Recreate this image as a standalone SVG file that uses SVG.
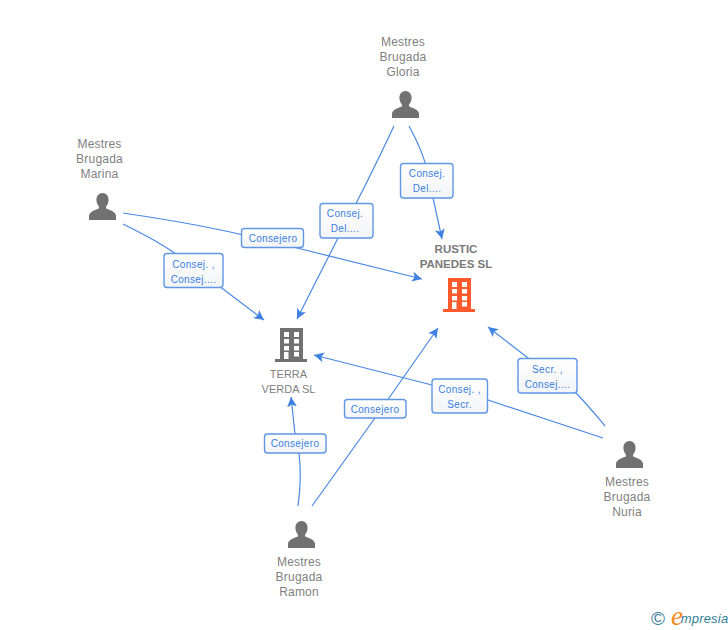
<svg xmlns="http://www.w3.org/2000/svg" width="728" height="630" viewBox="0 0 728 630">
<style>
text{font-family:"Liberation Sans",Arial,sans-serif;text-anchor:middle}
.n{font-size:12px;fill:#7f7f7f;letter-spacing:.2px}
.t{font-size:11px;letter-spacing:0}
.b{font-size:11.500px;font-weight:bold;fill:#7a7a7a;letter-spacing:0}
.l{font-size:10px;fill:#3a7fe0;letter-spacing:.35px}
.c{fill:none;stroke:#4a88e4;stroke-width:1.2;marker-end:url(#a)}
.box{fill:url(#g);stroke:#5f97e6;stroke-width:1.4}
</style>
<defs>
<linearGradient id="g" x1="0" y1="0" x2="0" y2="1"><stop offset="0" stop-color="#fff"/><stop offset="1" stop-color="#f3f4f6"/></linearGradient>
<marker id="a" markerUnits="userSpaceOnUse" markerWidth="14" markerHeight="14" refX="10" refY="6" orient="auto"><path d="M0 1L10 6L0 11L2.500 6Z" fill="#3f82e2"/></marker>
<symbol id="p" width="27" height="27" viewBox="0 0 27 27"><path fill="#717171" d="M13.500 0C17.200 0 19.600 3 19.600 6.800C19.600 9.600 18.500 12 17 13.600L17.200 15.600C20 17.200 26.200 18 27 22.500V27H0V22.500C.8 18 7 17.200 9.800 15.600L10 13.600C8.500 12 7.400 9.600 7.400 6.800C7.400 3 9.800 0 13.500 0Z"/></symbol>
<symbol id="h" width="32" height="34" viewBox="0 0 32 34"><path fill-rule="evenodd" d="M5 0H28V31H32V34H0V31H5ZM9 4V9H14V4ZM19 4V9H24V4ZM9 11V15.500H14V11ZM19 11V15.500H24V11ZM9 18V22.500H14V18ZM19 18V22.500H24V18ZM9 24V31H13.500V24ZM19 24V28.500H24V24Z"/></symbol>
</defs>
<g id="connectors">
<path class="c" d="M409 126C420 146 428 165 433 198L442 239"/>
<path class="c" d="M394 126C378 160 360 197 338 238L297 319"/>
<path class="c" d="M123 213C170 220 220 228 293 247L422 279"/>
<path class="c" d="M123 224C145 235 165 245 190 264L264 320"/>
<path class="c" d="M605 426C595 414 587 404 576 393L528 358L488 327"/>
<path class="c" d="M603 438L488 400C470 395 450 390 432 385L314 355"/>
<path class="c" d="M312 506L375 418L438 328"/>
<path class="c" d="M298 506C301 485 301 470 299 453L295 434L291 397"/>
</g>
<g id="lbl-gloria-rustic"><rect class="box" x="400.500" y="163.500" width="52.500" height="34.500" rx="3"/><text class="l" x="427" y="177">Consej. </text><text class="l" x="427" y="192">Del....</text></g>
<g id="lbl-gloria-terra"><rect class="box" x="320" y="203.500" width="53" height="34.500" rx="3"/><text class="l" x="345" y="217">Consej. </text><text class="l" x="345" y="232">Del....</text></g>
<g id="lbl-marina-rustic"><rect class="box" x="241.500" y="228.500" width="62" height="19" rx="3"/><text class="l" x="273" y="241.500">Consejero</text></g>
<g id="lbl-marina-terra"><rect class="box" x="164" y="253.500" width="59" height="34" rx="3"/><text class="l" x="193.500" y="267.500">Consej. ,</text><text class="l" x="193.500" y="282.500">Consej....</text></g>
<g id="lbl-nuria-rustic"><rect class="box" x="518" y="358.500" width="59" height="34.500" rx="3"/><text class="l" x="547.500" y="372.500">Secr. ,</text><text class="l" x="547.500" y="387.500">Consej....</text></g>
<g id="lbl-nuria-terra"><rect class="box" x="432" y="379" width="55.500" height="34" rx="3"/><text class="l" x="459.500" y="392.500">Consej. ,</text><text class="l" x="459.500" y="407.500">Secr.</text></g>
<g id="lbl-ramon-rustic"><rect class="box" x="344.500" y="399.500" width="61.500" height="18.500" rx="3"/><text class="l" x="375" y="412.500">Consejero</text></g>
<g id="lbl-ramon-terra"><rect class="box" x="264.500" y="434" width="61.500" height="19" rx="3"/><text class="l" x="295" y="447">Consejero</text></g>
<g id="node-gloria"><use href="#p" x="392" y="91"/><text class="n" x="403" y="46">Mestres</text><text class="n" x="403" y="61">Brugada</text><text class="n" x="403" y="76">Gloria</text></g>
<g id="node-marina"><use href="#p" x="89" y="193"/><text class="n" x="99.500" y="148">Mestres</text><text class="n" x="99.500" y="163">Brugada</text><text class="n" x="99.500" y="178">Marina</text></g>
<g id="node-ramon"><use href="#p" x="288" y="521"/><text class="n" x="299" y="566">Mestres</text><text class="n" x="299" y="581">Brugada</text><text class="n" x="299" y="596">Ramon</text></g>
<g id="node-nuria"><use href="#p" x="616" y="441"/><text class="n" x="627" y="486">Mestres</text><text class="n" x="627" y="501">Brugada</text><text class="n" x="627" y="516">Nuria</text></g>
<g id="node-terra"><use href="#h" x="275" y="328" fill="#717171"/><text class="n t" x="288.500" y="378">TERRA</text><text class="n t" x="288.500" y="393">VERDA SL</text></g>
<g id="node-rustic"><use href="#h" x="443" y="278" fill="#ff5a2c"/><text class="n b" x="456" y="253">RUSTIC</text><text class="n b" x="456" y="268">PANEDES SL</text></g>
<g id="logo"><text x="658" y="625" style="font-size:19px;fill:#3b7f9a">©</text><text x="677" y="625" style="font-family:'Liberation Serif',serif;font-style:italic;font-size:27px;fill:#f08a1d">e</text><text x="704.500" y="623" style="font-size:13px;font-style:italic;fill:#2f7f99;letter-spacing:.2px">mpresia</text></g>
</svg>
